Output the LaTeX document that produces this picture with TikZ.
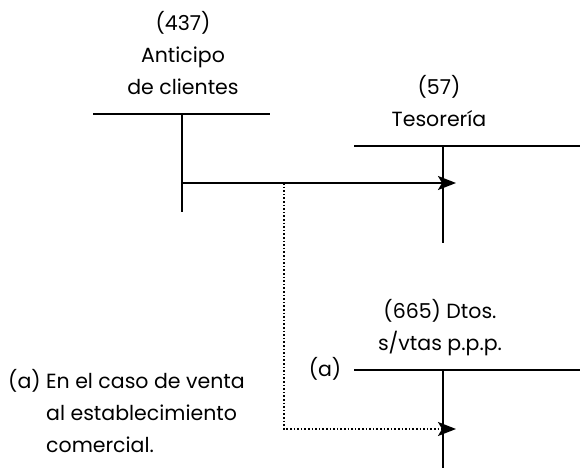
\documentclass[tikz,border=0pt]{standalone}
\usepackage{fontspec}
\setmainfont{Poppins}
\usetikzlibrary{arrows.meta}
\begin{document}
\begin{tikzpicture}[x=1pt,y=-1pt,
  tline/.style={line width=2.6pt},
  lbl/.style={align=center,inner sep=0pt,font=\fontsize{20.5}{32}\selectfont},
  flow/.style={line width=2pt,-{Stealth[length=18pt,width=14pt,inset=4pt]}},
  dotflow/.style={line width=1.6pt,dotted,-{Stealth[length=18pt,width=14pt,inset=4pt]}}]
\useasboundingbox (0,0) rectangle (580,468);
% T account 437
\coordinate (a1l) at (93,114); \coordinate (a1r) at (270,114);
\coordinate (a1t) at (182,114); \coordinate (a1b) at (182,212);
\draw[tline] (a1l) -- (a1r); \draw[tline] (a1t) -- (a1b);
\node[lbl,anchor=base] (l437) at (183,95) {(437)\\Anticipo\\de clientes};
% T account 57
\coordinate (a2l) at (354,146); \coordinate (a2r) at (580,146);
\coordinate (a2t) at (443,146); \coordinate (a2b) at (443,243);
\draw[tline] (a2l) -- (a2r); \draw[tline] (a2t) -- (a2b);
\node[lbl,anchor=base] (l57) at (439,126) {(57)\\Tesorería};
% T account 665
\coordinate (a3l) at (354,370); \coordinate (a3r) at (580,370);
\coordinate (a3t) at (443,370); \coordinate (a3b) at (443,468);
\draw[tline] (a3l) -- (a3r); \draw[tline] (a3t) -- (a3b);
\node[lbl,anchor=base] (l665) at (440,350) {(665) Dtos.\\s/vtas p.p.p.};
% arrows
\coordinate (s1) at (182,183); \coordinate (e1) at (456,183);
\coordinate (br) at (284,183); \coordinate (bc) at (284,429); \coordinate (e2) at (456,429);
\draw[flow] (s1) -- (e1);
\draw[dotflow] (br) -- (bc) -- (e2);
\node[lbl,anchor=base] (la) at (325,376) {(a)};
\node[lbl,anchor=base west,align=left] (note) at (8,452) {(a) En el caso de venta\\\hspace*{38pt}al establecimiento\\\hspace*{38pt}comercial.};
\end{tikzpicture}
\end{document}
